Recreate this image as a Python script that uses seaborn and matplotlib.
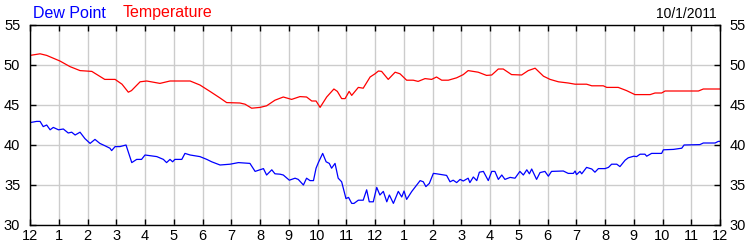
import matplotlib
matplotlib.use("Agg")
import matplotlib.pyplot as plt
import seaborn as sns
import pandas as pd

temp_hours = [0.0, 0.35, 0.58, 1.04, 1.39, 1.74, 2.15, 2.6, 2.96, 3.2, 3.42, 3.53, 3.83, 4.06, 4.52,
              4.87, 5.57, 5.91, 6.26, 6.6, 6.84, 7.3, 7.48, 7.71, 8.0, 8.23, 8.52, 8.81, 9.1, 9.39,
              9.62, 9.8, 9.95, 10.09, 10.32, 10.57, 10.69, 10.84, 10.96, 11.1, 11.19, 11.42, 11.59,
              11.83, 12.0, 12.12, 12.23, 12.46, 12.7, 12.87, 13.1, 13.33, 13.5, 13.74, 13.97, 14.14,
              14.32, 14.55, 14.84, 15.07, 15.24, 15.59, 15.88, 16.06, 16.29, 16.46, 16.75, 17.1,
              17.33, 17.57, 17.86, 18.09, 18.38, 18.72, 18.96, 19.36, 19.54, 19.94, 20.06, 20.46,
              20.75, 21.04, 21.57, 21.74, 21.97, 22.09, 23.25, 23.42, 24.0]
temperature = [51.2, 51.4, 51.2, 50.5, 49.8, 49.3, 49.2, 48.2, 48.2, 47.6, 46.6, 46.8, 47.9, 48.0, 47.7,
               48.0, 48.0, 47.5, 46.7, 45.9, 45.3, 45.25, 45.1, 44.6, 44.7, 44.9, 45.6, 46.0, 45.7, 46.05,
               46.0, 45.5, 45.5, 44.7, 46.0, 47.0, 46.7, 45.8, 45.8, 46.7, 46.2, 47.2, 47.1,
               48.5, 48.9, 49.25, 49.2, 48.2, 49.1, 48.9, 48.1, 48.1, 47.95, 48.3, 48.2, 48.5,
               48.1, 48.1, 48.4, 48.8, 49.3, 49.1, 48.7, 48.75, 49.5, 49.5, 48.8, 48.75,
               49.3, 49.6, 48.6, 48.2, 47.9, 47.75, 47.6, 47.6, 47.4, 47.4, 47.2, 47.2,
               46.8, 46.3, 46.3, 46.5, 46.5, 46.75, 46.75, 47.0, 47.0]

dew_hours = [0.0, 0.23, 0.35, 0.46, 0.58, 0.7, 0.81, 0.99, 1.16, 1.33, 1.45, 1.57, 1.74, 1.91, 2.09,
             2.26, 2.43, 2.61, 2.78, 2.84, 2.96, 3.13, 3.34, 3.54, 3.71, 3.88, 4.0, 4.41, 4.64, 4.75,
             4.87, 4.96, 5.04, 5.28, 5.39, 5.57, 5.91, 6.15, 6.32, 6.61, 6.96, 7.25, 7.65, 7.83,
             8.0, 8.12, 8.23, 8.41, 8.52, 8.7, 8.81, 9.02, 9.22, 9.33, 9.51, 9.62, 9.74, 9.86,
             9.95, 10.03, 10.18, 10.3, 10.41, 10.49, 10.61, 10.72, 10.84, 10.99, 11.08, 11.19,
             11.27, 11.42, 11.59, 11.71, 11.8, 11.94, 12.06, 12.17, 12.29, 12.41, 12.5, 12.64,
             12.81, 12.93, 13.01, 13.1, 13.28, 13.45, 13.57, 13.68, 13.77, 13.89, 14.03, 14.14,
             14.49, 14.61, 14.72, 14.84, 14.96, 15.07, 15.24, 15.3, 15.42, 15.54, 15.63, 15.77,
             15.94, 16.06, 16.17, 16.29, 16.41, 16.52, 16.7, 16.87, 17.04, 17.16, 17.28, 17.37,
             17.45, 17.62, 17.74, 17.91, 18.03, 18.14, 18.55, 18.72, 18.9, 18.96, 19.01, 19.13,
             19.19, 19.36, 19.54, 19.65, 19.77, 20.0, 20.12, 20.23, 20.41, 20.52, 20.7, 20.81,
             21.0, 21.1, 21.22, 21.39, 21.45, 21.62, 21.97, 22.03, 22.38, 22.67, 22.75, 23.3,
             23.42, 23.83, 23.94, 24.0]
dew_point = [42.8, 42.95, 42.95, 42.3, 42.5, 41.9, 42.2, 41.9, 42.0, 41.5, 41.6, 41.25, 41.6, 40.8, 40.2,
             40.7, 40.2, 39.9, 39.6, 39.3, 39.8, 39.8, 40.0, 37.8, 38.2, 38.2, 38.75, 38.55, 38.2, 37.8,
             38.2, 37.9, 38.2, 38.2, 38.95, 38.75, 38.55, 38.2, 37.9, 37.5, 37.6, 37.8, 37.7, 36.7,
             36.9, 37.05, 36.25, 36.9, 36.4, 36.35, 36.25, 35.6, 35.85, 35.7, 35.0, 35.85, 35.55, 35.55,
             37.1, 37.8, 38.95, 37.9, 37.7, 37.1, 37.7, 35.85, 35.4, 33.3, 33.45, 32.7,
             32.7, 33.1, 33.1, 34.4, 32.9, 32.9, 34.7, 33.75, 34.2, 32.9, 33.75, 32.7,
             34.2, 33.5, 34.25, 33.2, 34.2, 35.0, 35.55, 35.4, 34.8, 35.2, 36.45, 36.4,
             36.2, 35.4, 35.6, 35.3, 35.7, 35.5, 35.85, 35.3, 36.0, 35.55, 36.6, 36.7,
             35.55, 36.7, 36.7, 35.7, 36.25, 35.7, 35.95, 35.85, 36.7, 36.25, 36.9, 36.4,
             37.0, 35.7, 36.55, 36.7, 36.1, 36.7, 36.75, 36.45, 36.45, 36.75, 36.3, 36.7,
             36.4, 37.2, 37.0, 36.6, 37.05, 37.05, 37.2, 37.6, 37.6, 37.3, 38.1, 38.4,
             38.6, 38.55, 38.85, 38.85, 38.6, 38.95, 38.95, 39.4, 39.45, 39.6, 40.0, 40.05,
             40.25, 40.25, 40.45, 40.45]

tick_hours = list(range(25))
tick_labels = ["12"] + [str(h) for h in range(1, 12)] + ["12"] + [str(h) for h in range(1, 12)] + ["12"]
y_ticks = [30, 35, 40, 45, 50, 55]

sns.set_style("white")
plt.rcParams["font.family"] = ["Liberation Sans", "DejaVu Sans"]

fig = plt.figure(figsize=(7.5, 2.5), dpi=100)
ax = fig.add_axes([0.04, 0.10, 0.92, 0.80])

temp_df = pd.DataFrame({"hour": temp_hours, "value": temperature})
dew_df = pd.DataFrame({"hour": dew_hours, "value": dew_point})

sns.lineplot(data=temp_df, x="hour", y="value", ax=ax, color="#ff0000", linewidth=0.9)
sns.lineplot(data=dew_df, x="hour", y="value", ax=ax, color="#0000ff", linewidth=0.9)

ax.set_xlim(0, 24)
ax.set_ylim(30, 55)
ax.set_xticks(tick_hours)
ax.set_xticklabels(tick_labels)
ax.set_yticks(y_ticks)
ax.set_xlabel("")
ax.set_ylabel("")
ax.grid(True, color="#cccccc", linewidth=1.0)
ax.set_axisbelow(True)
for s in ax.spines.values():
    s.set_color("black")
    s.set_linewidth(1.0)

ax.tick_params(axis="x", direction="in", length=4, width=1, top=True, bottom=True,
               labelsize=10.5, pad=3, colors="black")
ax.tick_params(axis="y", direction="in", length=4, width=1, left=True, right=True,
               labelleft=True, labelright=True, labelsize=10.5, pad=7, colors="black")

fig.text(0.044, 0.93, "Dew Point", color="#0000ff", fontsize=11.5, ha="left", va="baseline")
fig.text(0.164, 0.93, "Temperature", color="#ff0000", fontsize=11.5, ha="left", va="baseline")
fig.text(0.955, 0.93, "10/1/2011", color="black", fontsize=10, ha="right", va="baseline")

fig.savefig("out.png", dpi=100)
